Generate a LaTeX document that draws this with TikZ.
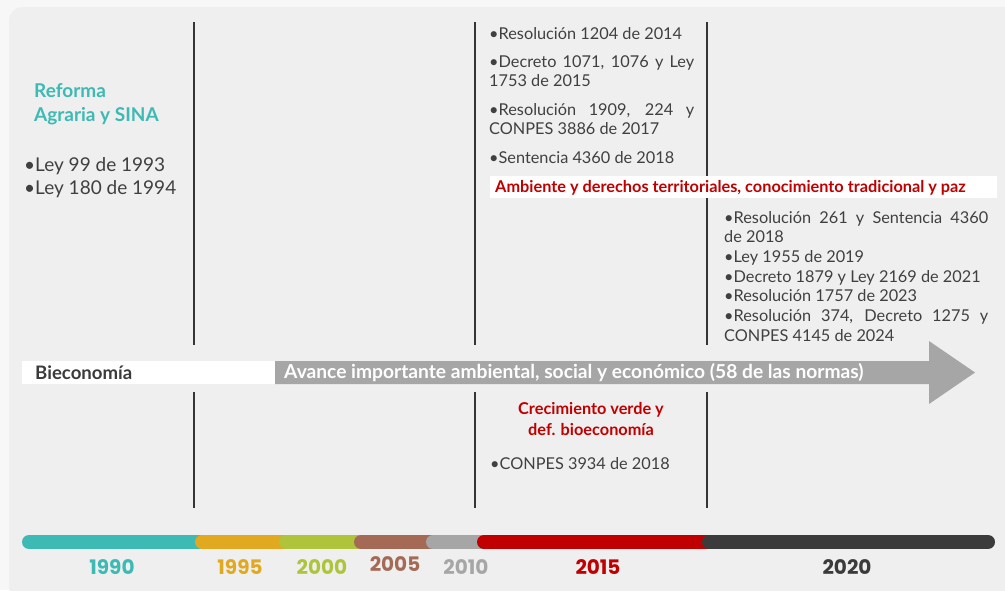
\documentclass[tikz,border=0pt]{standalone}
\usepackage{fontspec}
\setmainfont{Lato}
\newfontfamily\yearfont{Poppins}
\definecolor{cteal}{HTML}{3DBAB3}
\definecolor{corange}{HTML}{E1A920}
\definecolor{clime}{HTML}{AFC43A}
\definecolor{cbrown}{HTML}{A56A56}
\definecolor{clgray}{HTML}{A6A6A6}
\definecolor{cred}{HTML}{C00000}
\definecolor{cdark}{HTML}{3B3B3B}
\definecolor{ctext}{HTML}{404040}
\definecolor{cpanel}{HTML}{EFEFEF}
\definecolor{couter}{HTML}{F7F7F7}
\begin{document}
\begin{tikzpicture}[x=1pt,y=-1pt,
  vline/.style={draw=cdark!90!black,line width=1.4pt},
  seg/.style={line width=14pt,line cap=round},
  body/.style={inner sep=0pt,text=ctext,font=\fontsize{16.3}{19.7}\selectfont,align=justify},
  big/.style={inner sep=0pt,text=ctext,font=\fontsize{19}{22}\selectfont,anchor=base west},
  year/.style={inner sep=0pt,font=\yearfont\bfseries\fontsize{20}{22}\selectfont,anchor=base},
  redlab/.style={inner sep=0pt,text=cred,font=\bfseries\fontsize{16.3}{21}\selectfont}]
\useasboundingbox (0,0) rectangle (1005,590);
\fill[couter] (0,0) rectangle (1005,590);
\fill[cpanel,rounded corners=14pt] (9,7) -- (1020,7) -- (1020,600) -- (9,600) -- cycle;

% vertical lines
\coordinate (l1a) at (194,22); \coordinate (l1b) at (194,345);
\coordinate (l1c) at (194,392); \coordinate (l1d) at (194,508);
\coordinate (l2a) at (475,22); \coordinate (l2b) at (475,345);
\coordinate (l2c) at (475,392); \coordinate (l2d) at (475,508);
\coordinate (l3a) at (707,22); \coordinate (l3b) at (707,345);
\coordinate (l3c) at (707,392); \coordinate (l3d) at (707,508);
\draw[vline] (l1a) -- (l1b); \draw[vline] (l1c) -- (l1d);
\draw[vline] (l2a) -- (l2b); \draw[vline] (l2c) -- (l2d);
\draw[vline] (l3a) -- (l3b); \draw[vline] (l3c) -- (l3d);

% left block
\node[inner sep=0pt,anchor=base west,text=cteal,font=\bfseries\fontsize{19}{24}\selectfont] (ref1) at (34,97) {Reforma};
\node[inner sep=0pt,anchor=base west,text=cteal,font=\bfseries\fontsize{19}{24}\selectfont] (ref2) at (34,121) {Agraria y SINA};
\node[big] (ley1) at (24,171) {\textbullet Ley 99 de 1993};
\node[big] (ley2) at (24,194) {\textbullet Ley 180 de 1994};

% middle top block
\node[body,text width=205pt,anchor=base west] (m1) at (489,39) {\textbullet Resolución 1204 de 2014};
\node[body,text width=205pt,anchor=base west] (m2) at (489,67) {\textbullet Decreto 1071, 1076 y Ley\linebreak 1753 de 2015};
\node[body,text width=205pt,anchor=base west] (m3) at (489,115) {\textbullet Resolución 1909, 224 y\linebreak CONPES 3886 de 2017};
\node[body,text width=205pt,anchor=base west] (m4) at (489,163) {\textbullet Sentencia 4360 de 2018};

\fill[white] (490,176) rectangle (997,198);
\node[redlab,anchor=base west] (amb) at (495,192.5) {Ambiente y derechos territoriales, conocimiento tradicional y paz};

% right block
\node[body,text width=264pt,anchor=base west] (r1) at (724,223) {\textbullet Resolución 261 y Sentencia 4360\linebreak de 2018\newline
\textbullet Ley 1955 de 2019\newline
\textbullet Decreto 1879 y Ley 2169 de 2021\newline
\textbullet Resolución 1757 de 2023\newline
\textbullet Resolución 374, Decreto 1275 y\linebreak CONPES 4145 de 2024};

% arrow
\fill[white] (22,361) rectangle (276,384);
\fill[clgray] (275,361) -- (929,361) -- (929,341) -- (975,372.5) -- (929,404) -- (929,384) -- (275,384) -- cycle;
\node[inner sep=0pt,anchor=west,text=cdark,font=\bfseries\fontsize{18.6}{20}\selectfont] (bio) at (35,373) {Bieconomía};
\node[inner sep=0pt,anchor=west,text=white,font=\bfseries\fontsize{19.2}{22}\selectfont] (avance) at (284,372.5) {Avance importante ambiental, social y económico (58 de las normas)};

% lower middle
\node[redlab,anchor=base] (crec1) at (591,414) {Crecimiento verde y};
\node[redlab,anchor=base] (crec2) at (591,435) {def. bioeconomía};
\node[body,anchor=base west] (conpes) at (490,469) {\textbullet CONPES 3934 de 2018};

% timeline bar
\draw[seg,cteal] (29,542) -- (210,542);
\draw[seg,corange] (202,542) -- (290,542);
\draw[seg,clime] (286,542) -- (365,542);
\draw[seg,cbrown] (361,542) -- (440,542);
\draw[seg,clgray] (433,542) -- (490,542);
\draw[seg,cred] (484,542) -- (715,542);
\draw[seg,cdark] (709,542) -- (988,542);

\node[year,text=cteal] (y1990) at (112,574) {1990};
\node[year,text=corange] (y1995) at (240,574) {1995};
\node[year,text=clime] (y2000) at (322,574) {2000};
\node[year,text=cbrown] (y2005) at (395,571) {2005};
\node[year,text=clgray] (y2010) at (466,574) {2010};
\node[year,text=cred] (y2015) at (598,574) {2015};
\node[year,text=cdark] (y2020) at (847,574) {2020};
\end{tikzpicture}
\end{document}
